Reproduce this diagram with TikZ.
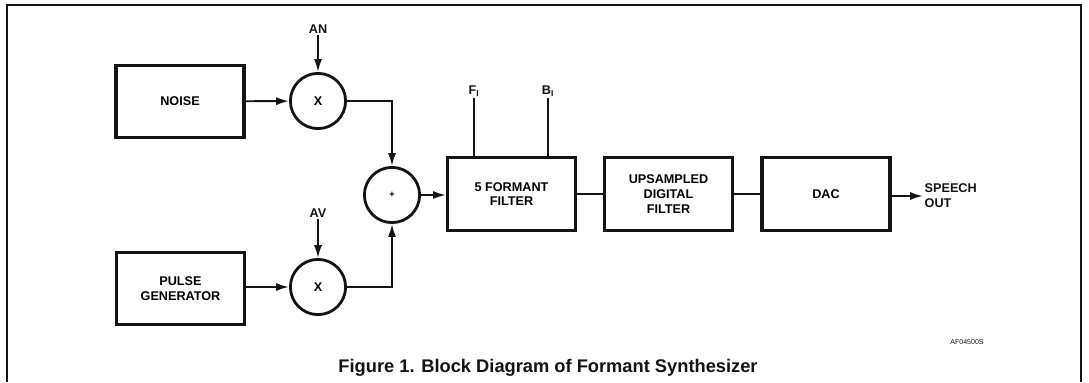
\documentclass[tikz,border=0pt]{standalone}
\usepackage{fontspec}
\setmainfont{Liberation Sans}
\usetikzlibrary{arrows.meta}
\definecolor{encre}{RGB}{20, 20, 20}

\begin{document}
\begin{tikzpicture}[
  x=0.025cm, y=-0.025cm,
  bloc/.style={rectangle, draw=encre, line width=2.2pt,
    minimum width=3.2cm, minimum height=1.82cm, align=center,
    font=\fontsize{9}{10.5}\selectfont\bfseries},
  oper/.style={circle, draw=encre, line width=2pt, minimum size=1.38cm,
    inner sep=0pt, font=\fontsize{9}{9}\selectfont\bfseries},
  arr/.style={-{Latex[length=3.2mm, width=2mm]}, line width=1.4pt,
    draw=encre},
  lien/.style={line width=1.4pt, draw=encre},
  lbl/.style={font=\fontsize{9}{10.5}\selectfont\bfseries, text=encre,
    inner sep=1pt, align=left},
]
\useasboundingbox (0,0) rectangle (1089,382);
\draw[draw=encre, line width=0.8pt] (7,382) -- (7,5) -- (1081,5) -- (1081,382);

\node[bloc]   (noise)   at (180,101.5) {NOISE};
\node[bloc]   (pulse)   at (180.5,288.5) {PULSE\\GENERATOR};
\node[oper]   (mulN)    at (318,101) {X};
\node[oper]   (mulV)    at (318,287) {X};
\node[oper]   (sum)     at (392,195) {\fontsize{6.5}{6.5}\selectfont +};
\node[bloc]   (formant) at (511.5,194) {5 FORMANT\\FILTER};
\node[bloc]   (upsamp)  at (668.5,194) {UPSAMPLED\\DIGITAL\\FILTER};
\node[bloc]   (dac)     at (826,194) {DAC};
\node[lbl]    (an)      at (318,29) {AN};
\node[lbl]    (av)      at (318,213) {AV};
\node[lbl]    (f1)      at (474,91) {F\textsubscript{I}};
\node[lbl]    (b1)      at (548,91) {B\textsubscript{I}};
\node[lbl, anchor=west] (speech) at (923,196) {SPEECH\\OUT};
\node[font=\fontsize{5}{6}\selectfont, text=encre] (code) at (967,342) {AF04500S};
\node[font=\fontsize{13}{15}\selectfont\bfseries, text=encre]
  (caption) at (548,368) {Figure 1. Block Diagram of Formant Synthesizer};

\draw[arr] (noise) -- (mulN);
\draw[arr] (pulse.east |- mulV) -- (mulV);
\draw[arr] (an) -- (mulN);
\draw[arr] (av) -- (mulV);
\draw[arr] (mulN) -| (sum);
\draw[arr] (mulV) -| (sum);
\draw[arr] (sum) -- (sum -| formant.west);
\draw[lien] (f1.south) -- (f1.south |- formant.north);
\draw[lien] (b1.south) -- (b1.south |- formant.north);
\draw[lien] (formant) -- (upsamp);
\draw[lien] (upsamp) -- (dac);
\draw[arr] (dac.east |- speech) -- (speech);
\end{tikzpicture}
\end{document}
